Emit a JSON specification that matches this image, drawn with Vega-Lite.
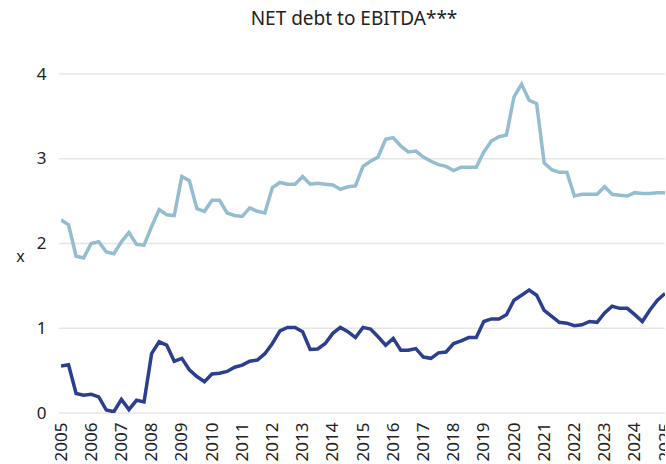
{
  "$schema": "https://vega.github.io/schema/vega-lite/v6.json",
  "autosize": {"type": "none"},
  "padding": {"left": 61, "top": 74, "right": 0, "bottom": 51},
  "width": 604,
  "height": 339,
  "background": "white",
  "config": {"view": {"stroke": null}, "font": "Noto Sans"},
  "title": {"text": "NET debt to EBITDA***", "fontSize": 19, "fontWeight": "normal", "font": "Noto Sans", "color": "#222222", "anchor": "middle", "offset": 36, "frame": "group", "dx": -9},
  "data": {"values": [
    {"t":2005.0,"light":2.28,"dark":0.555},{"t":2005.25,"light":2.22,"dark":0.57},{"t":2005.5,"light":1.85,"dark":0.23},{"t":2005.75,"light":1.83,"dark":0.21},
    {"t":2006.0,"light":2.0,"dark":0.22},{"t":2006.25,"light":2.02,"dark":0.19},{"t":2006.5,"light":1.9,"dark":0.035},{"t":2006.75,"light":1.88,"dark":0.015},
    {"t":2007.0,"light":2.02,"dark":0.16},{"t":2007.25,"light":2.13,"dark":0.04},{"t":2007.5,"light":1.99,"dark":0.15},{"t":2007.75,"light":1.98,"dark":0.13},
    {"t":2008.0,"light":2.2,"dark":0.7},{"t":2008.25,"light":2.4,"dark":0.84},{"t":2008.5,"light":2.34,"dark":0.8},{"t":2008.75,"light":2.33,"dark":0.61},
    {"t":2009.0,"light":2.79,"dark":0.645},{"t":2009.25,"light":2.74,"dark":0.51},{"t":2009.5,"light":2.41,"dark":0.43},{"t":2009.75,"light":2.38,"dark":0.37},
    {"t":2010.0,"light":2.51,"dark":0.46},{"t":2010.25,"light":2.51,"dark":0.47},{"t":2010.5,"light":2.36,"dark":0.49},{"t":2010.75,"light":2.33,"dark":0.54},
    {"t":2011.0,"light":2.32,"dark":0.565},{"t":2011.25,"light":2.42,"dark":0.61},{"t":2011.5,"light":2.38,"dark":0.625},{"t":2011.75,"light":2.36,"dark":0.7},
    {"t":2012.0,"light":2.66,"dark":0.82},{"t":2012.25,"light":2.72,"dark":0.97},{"t":2012.5,"light":2.7,"dark":1.01},{"t":2012.75,"light":2.7,"dark":1.01},
    {"t":2013.0,"light":2.79,"dark":0.96},{"t":2013.25,"light":2.7,"dark":0.75},{"t":2013.5,"light":2.71,"dark":0.755},{"t":2013.75,"light":2.7,"dark":0.82},
    {"t":2014.0,"light":2.69,"dark":0.94},{"t":2014.25,"light":2.64,"dark":1.01},{"t":2014.5,"light":2.67,"dark":0.96},{"t":2014.75,"light":2.68,"dark":0.89},
    {"t":2015.0,"light":2.91,"dark":1.01},{"t":2015.25,"light":2.97,"dark":0.99},{"t":2015.5,"light":3.02,"dark":0.9},{"t":2015.75,"light":3.23,"dark":0.8},
    {"t":2016.0,"light":3.25,"dark":0.88},{"t":2016.25,"light":3.15,"dark":0.74},{"t":2016.5,"light":3.08,"dark":0.74},{"t":2016.75,"light":3.09,"dark":0.76},
    {"t":2017.0,"light":3.02,"dark":0.66},{"t":2017.25,"light":2.97,"dark":0.645},{"t":2017.5,"light":2.93,"dark":0.71},{"t":2017.75,"light":2.91,"dark":0.72},
    {"t":2018.0,"light":2.86,"dark":0.82},{"t":2018.25,"light":2.9,"dark":0.85},{"t":2018.5,"light":2.9,"dark":0.89},{"t":2018.75,"light":2.9,"dark":0.89},
    {"t":2019.0,"light":3.08,"dark":1.08},{"t":2019.25,"light":3.21,"dark":1.11},{"t":2019.5,"light":3.26,"dark":1.11},{"t":2019.75,"light":3.28,"dark":1.16},
    {"t":2020.0,"light":3.73,"dark":1.33},{"t":2020.25,"light":3.88,"dark":1.39},{"t":2020.5,"light":3.69,"dark":1.45},{"t":2020.75,"light":3.65,"dark":1.39},
    {"t":2021.0,"light":2.95,"dark":1.21},{"t":2021.25,"light":2.87,"dark":1.14},{"t":2021.5,"light":2.84,"dark":1.07},{"t":2021.75,"light":2.84,"dark":1.06},
    {"t":2022.0,"light":2.56,"dark":1.03},{"t":2022.25,"light":2.58,"dark":1.04},{"t":2022.5,"light":2.58,"dark":1.08},{"t":2022.75,"light":2.58,"dark":1.07},
    {"t":2023.0,"light":2.67,"dark":1.18},{"t":2023.25,"light":2.58,"dark":1.26},{"t":2023.5,"light":2.57,"dark":1.235},{"t":2023.75,"light":2.56,"dark":1.235},
    {"t":2024.0,"light":2.6,"dark":1.16},{"t":2024.25,"light":2.59,"dark":1.08},{"t":2024.5,"light":2.59,"dark":1.215},{"t":2024.75,"light":2.6,"dark":1.33},
    {"t":2025.0,"light":2.6,"dark":1.41}
  ]},
  "encoding": {
    "x": {"field": "t", "type": "quantitative",
      "scale": {"domain": [2005, 2025], "nice": false, "zero": false},
      "axis": {"title": null, "values": [2005,2006,2007,2008,2009,2010,2011,2012,2013,2014,2015,2016,2017,2018,2019,2020,2021,2022,2023,2024,2025],
        "format": "d", "labelAngle": -90, "labelAlign": "right", "labelBaseline": "middle", "labelPadding": 9,
        "grid": false, "domain": false, "ticks": false, "labelFontSize": 17, "labelColor": "#222222", "labelFont": "Noto Sans", "labelOverlap": false, "labelBound": false, "labelFlush": false}}
  },
  "layer": [
    {"mark": {"type": "rule", "color": "#e6e6e6", "strokeWidth": 1.5}, "data": {"values": [{"v":0},{"v":1},{"v":2},{"v":3},{"v":4}]},
      "encoding": {"y": {"field": "v", "type": "quantitative", "scale": {"domain": [0, 4], "nice": false}}, "x": {"value": -2}, "x2": {"value": 620}}},
    {"mark": {"type": "line", "color": "#95BDD0", "strokeWidth": 3.5, "clip": true},
      "encoding": {"y": {"field": "light", "type": "quantitative", "scale": {"domain": [0, 4], "nice": false},
        "axis": {"title": "x", "titleAngle": 0, "titleX": -41, "titleY": 190, "titleFontSize": 16, "titleFontWeight": "normal", "titleColor": "#222222", "titleFont": "Noto Sans",
          "values": [0,1,2,3,4], "format": "d", "grid": false, "domain": false, "ticks": false, "labelPadding": 15, "labelFontSize": 17, "labelColor": "#222222", "labelFont": "Noto Sans"}}}},
    {"mark": {"type": "line", "color": "#2B3F8E", "strokeWidth": 3.5, "clip": true},
      "encoding": {"y": {"field": "dark", "type": "quantitative", "scale": {"domain": [0, 4], "nice": false}}}}
  ]
}
